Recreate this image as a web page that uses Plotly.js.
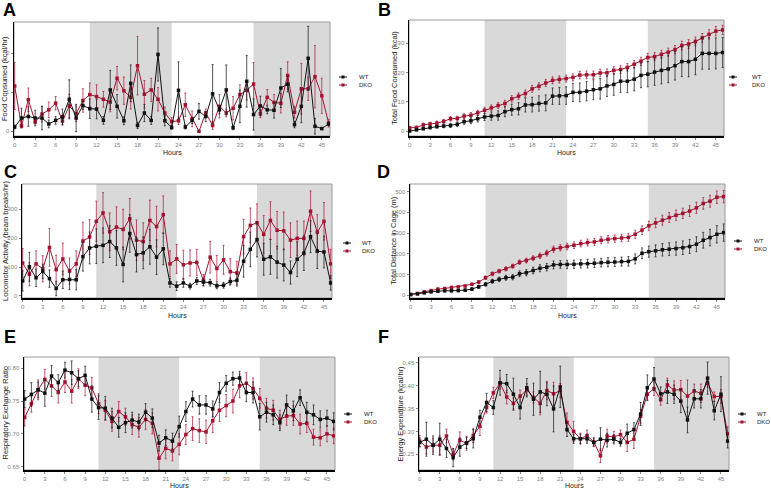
<!DOCTYPE html>
<html><head><meta charset="utf-8">
<script src="https://cdn.plot.ly/plotly-3.0.1.min.js"></script>
<style>html,body{margin:0;padding:0;background:#fff}#chart{width:771px;height:489px}</style>
</head><body><div id="chart"></div>
<script>
const hours = [0,1,2,3,4,5,6,7,8,9,10,11,12,13,14,15,16,17,18,19,20,21,22,23,24,25,26,27,28,29,30,31,32,33,34,35,36,37,38,39,40,41,42,43,44,45,46];
const groups = ['WT','DKO'];
const panelLetters = ['A','B','C','D','E','F'];
const yTitles = ['Food Consumed (kcal/hr)','Total Food Consumed (kcal)','Locomotor Activity (beam breaks/hr)','Total Distance in Cage (m)','Respiratory Exchange Ratio','Energy Expenditure (kcal/hr)'];
const xTitle = 'Hours';
const darkPeriods = [[11,23],[35,46.2]];

// A: hourly food consumed
const foodWT = [0.11,0.34,0.38,0.34,0.34,0.19,0.28,0.37,0.82,0.34,0.66,0.58,0.57,0.28,1.06,0.64,0.27,1.23,0.15,0.47,0.28,1.97,0.27,0.10,1.05,0.11,0.28,0.51,0.38,0.96,0.55,1.06,0.09,0.64,1.28,0.43,0.65,0.55,0.54,1.11,1.21,0.17,0.64,1.87,0.13,0.07,0.19];
const foodWTErr = [0.05,0.25,0.25,0.2,0.3,0.1,0.1,0.2,0.5,0.35,0.1,0.25,0.25,0.1,0.5,0.3,0.1,0.47,0.08,0.22,0.1,0.68,0.13,0.05,0.73,0.05,0.08,0.2,0.13,0.75,0.1,0.64,0.05,0.42,0.66,0.4,0.25,0.1,0.2,0.5,0.2,0.08,0.42,0.82,0.2,0.03,0.05];
const foodDKO = [1.16,0.14,0.81,0.24,0.44,0.55,0.72,0.26,0.65,0.45,0.79,0.94,0.89,0.82,0.75,1.36,1.04,0.87,1.68,0.95,1.06,0.82,0.47,0.25,0.27,0.68,0.32,0.0,0.47,0.15,0.64,0.47,0.59,0.94,1.05,1.21,0.45,0.87,0.74,0.72,1.43,0.49,1.09,1.09,1.40,0.91,0.21];
const foodDKOErr = [0.6,0.05,0.3,0.05,0.2,0.2,0.17,0.1,0.3,0.2,0.3,0.3,0.3,0.2,0.25,0.3,0.35,0.3,0.75,0.35,0.3,0.3,0.15,0.1,0.1,0.3,0.2,0.02,0.1,0.1,0.3,0.1,0.3,0.25,0.25,0.55,0.1,0.2,0.2,0.25,0.35,0.15,0.65,0.3,0.8,0.45,0.1];

// B: cumulative food
const cumFoodWT = [0,0.4,0.8,1.2,1.5,1.7,1.9,2.3,3.2,3.5,4.2,4.8,5.1,5.3,6.6,7.3,7.6,8.9,9.0,9.4,9.6,11.9,12.0,12.1,13.2,13.2,13.6,14.1,14.4,15.4,15.9,17.0,17.0,17.7,19.0,19.4,20.1,20.7,21.2,22.3,23.7,23.7,24.5,26.5,26.5,26.5,26.8];
const cumFoodWTErr = [0.2,0.3,0.4,0.5,0.5,0.6,0.7,0.8,0.9,1.0,1.1,1.2,1.4,1.6,1.7,1.9,2.1,2.4,2.5,2.6,2.7,2.8,2.9,3.0,3.1,3.2,3.3,3.4,3.5,3.6,3.7,3.8,3.9,4.0,4.2,4.3,4.5,4.6,4.7,4.9,5.1,5.2,5.3,5.4,5.4,5.3,5.1];
const cumFoodDKO = [1.1,1.2,2.1,2.4,2.7,3.3,4.2,4.3,5.1,5.4,6.2,7.1,7.9,8.7,9.4,11.0,11.9,12.8,14.4,15.3,16.4,17.3,17.6,17.9,18.3,19.1,19.2,19.2,19.8,19.9,20.7,21.0,21.7,22.8,23.8,25.1,25.4,26.2,26.9,27.8,29.2,29.7,30.6,31.8,33.0,34.1,34.5];
const cumFoodDKOErr = [0.4,0.5,0.6,0.6,0.7,0.7,0.8,0.8,0.8,0.9,0.9,1.0,1.0,1.0,1.1,1.1,1.1,1.2,1.2,1.2,1.2,1.2,1.2,1.2,1.2,1.3,1.3,1.3,1.3,1.3,1.3,1.3,1.3,1.3,1.4,1.4,1.4,1.4,1.4,1.4,1.5,1.5,1.5,1.5,1.6,1.6,1.6];

// C: locomotor activity
const locoWT = [52,101,63,85,60,26,56,57,56,136,166,172,175,188,166,109,216,143,149,170,134,163,45,34,45,34,52,48,46,35,37,50,54,120,161,195,127,135,117,107,81,127,148,205,155,152,45];
const locoWTErr = [35,50,30,25,30,25,30,35,35,50,55,60,60,55,60,60,65,60,55,60,60,55,15,15,15,10,12,12,12,10,10,12,20,55,60,60,55,60,55,55,40,60,60,55,60,55,25];
const locoDKO = [114,75,111,94,168,91,128,86,111,190,204,258,287,222,238,230,267,193,188,261,240,281,111,128,108,114,116,54,134,95,125,84,80,205,244,253,213,261,227,225,193,199,199,293,221,258,111];
const locoDKOErr = [50,40,45,45,65,50,55,45,45,65,60,70,70,65,70,70,70,70,65,70,70,65,45,50,50,45,45,20,55,45,50,45,40,60,60,65,65,65,65,65,60,60,60,70,60,65,50];

// D: total distance
const distWT = [3,6,11,16,19,21,21,22,24,29,40,52,67,76,84,87,103,108,119,130,135,146,148,148,149,151,152,154,157,159,160,162,163,175,202,210,214,219,222,225,229,235,246,265,278,294,302];
const distWTErr = [3,4,4,5,5,5,6,6,6,7,8,9,10,11,12,13,14,15,16,17,18,19,19,20,20,20,21,21,21,22,22,22,23,24,26,27,29,30,31,32,33,34,36,38,40,42,42];
const distDKO = [3,8,16,22,29,32,37,40,44,52,63,84,103,116,127,140,159,167,178,190,203,222,229,235,241,249,254,257,265,270,273,276,279,294,314,335,349,362,375,386,395,406,422,443,454,473,476];
const distDKOErr = [2,3,3,4,4,4,5,5,5,6,7,8,9,9,10,10,11,12,12,13,14,15,15,16,16,16,17,17,17,18,18,18,19,20,21,22,23,24,24,25,25,26,27,28,29,30,30];

// E: RER
const rerWT = [0.753,0.760,0.767,0.762,0.788,0.778,0.797,0.793,0.784,0.789,0.753,0.740,0.739,0.724,0.710,0.717,0.721,0.718,0.733,0.724,0.686,0.694,0.689,0.711,0.734,0.753,0.744,0.744,0.738,0.763,0.777,0.784,0.785,0.763,0.763,0.726,0.733,0.729,0.717,0.744,0.735,0.755,0.733,0.729,0.722,0.724,0.719];
const rerWTErr = [0.013,0.018,0.012,0.02,0.016,0.012,0.012,0.018,0.012,0.014,0.02,0.018,0.018,0.015,0.015,0.015,0.012,0.012,0.013,0.014,0.012,0.012,0.012,0.016,0.015,0.012,0.014,0.014,0.012,0.015,0.012,0.01,0.01,0.014,0.016,0.02,0.015,0.015,0.012,0.015,0.015,0.012,0.015,0.015,0.013,0.012,0.013];
const rerDKO = [0.725,0.746,0.767,0.783,0.773,0.763,0.779,0.765,0.784,0.774,0.770,0.746,0.736,0.719,0.734,0.726,0.714,0.710,0.722,0.716,0.663,0.678,0.674,0.684,0.699,0.708,0.705,0.703,0.720,0.736,0.743,0.750,0.773,0.777,0.769,0.754,0.739,0.736,0.722,0.727,0.728,0.715,0.716,0.695,0.694,0.700,0.697];
const rerDKOErr = [0.013,0.013,0.015,0.015,0.016,0.016,0.016,0.018,0.015,0.016,0.016,0.015,0.015,0.015,0.015,0.013,0.015,0.015,0.015,0.016,0.018,0.016,0.015,0.016,0.015,0.018,0.018,0.018,0.018,0.017,0.017,0.018,0.018,0.016,0.016,0.015,0.015,0.015,0.014,0.014,0.015,0.015,0.014,0.012,0.012,0.012,0.012];

// F: energy expenditure
const eeWT = [0.276,0.283,0.270,0.283,0.263,0.243,0.266,0.275,0.284,0.331,0.363,0.352,0.406,0.404,0.381,0.352,0.395,0.370,0.386,0.381,0.349,0.397,0.304,0.284,0.284,0.284,0.276,0.283,0.281,0.283,0.276,0.296,0.304,0.338,0.395,0.414,0.382,0.386,0.381,0.366,0.325,0.371,0.371,0.416,0.345,0.381,0.279];
const eeWTErr = [0.01,0.037,0.02,0.035,0.02,0.02,0.02,0.012,0.02,0.015,0.02,0.015,0.027,0.02,0.035,0.025,0.02,0.035,0.045,0.025,0.05,0.045,0.015,0.01,0.01,0.01,0.008,0.025,0.015,0.01,0.008,0.02,0.015,0.025,0.028,0.025,0.015,0.025,0.02,0.025,0.028,0.02,0.02,0.035,0.02,0.038,0.015];
const eeDKO = [0.279,0.266,0.270,0.270,0.290,0.250,0.281,0.274,0.291,0.311,0.352,0.384,0.404,0.375,0.361,0.377,0.391,0.374,0.361,0.389,0.382,0.389,0.320,0.300,0.284,0.291,0.277,0.247,0.290,0.288,0.293,0.276,0.283,0.333,0.381,0.393,0.369,0.401,0.390,0.391,0.377,0.388,0.383,0.406,0.376,0.376,0.295];
const eeDKOErr = [0.012,0.015,0.015,0.02,0.015,0.012,0.018,0.015,0.015,0.02,0.012,0.012,0.012,0.015,0.012,0.013,0.013,0.012,0.025,0.02,0.025,0.015,0.02,0.022,0.012,0.012,0.01,0.015,0.015,0.012,0.01,0.02,0.02,0.015,0.012,0.015,0.012,0.015,0.02,0.02,0.035,0.015,0.02,0.01,0.01,0.015,0.015];

const yTickVals = [[0,1,2],[0,10,20,30],[0,100,200,300],[0,100,200,300,400,500],[0.65,0.70,0.75,0.80],[0.25,0.30,0.35,0.40,0.45]];
const yTickText = [['0','1','2'],['0','10','20','30'],['0','100','200','300'],['0','100','200','300','400','500'],['0.65','0.70','0.75','0.80'],['0.25','0.30','0.35','0.40','0.45']];

const W = 771, H = 489;
const PX = x => x / W, PY = y => 1 - y / H;
// layout (pixel boxes)
const boxes = [
  {l:14,r:330,t:22,b:136, yr:[-0.12,2.8], ytx:4, hy:152, lx:343, tx:357, ly:77, letter:[9,10]},
  {l:409,r:724,t:20,b:136, yr:[-1.7,37.9], ytx:395, hy:152, lx:733, tx:750, ly:77, letter:[384,10]},
  {l:22,r:332,t:184,b:298, yr:[-7,387], ytx:5, hy:315, lx:347, tx:360, ly:243, letter:[10,172]},
  {l:410,r:725,t:184,b:298, yr:[-14,537], ytx:393, hy:315, lx:738, tx:752, ly:241, letter:[383,172]},
  {l:24,r:335,t:357,b:470, yr:[0.645,0.817], ytx:5, hy:485, lx:348, tx:362, ly:414, letter:[10,337]},
  {l:419,r:729,t:357,b:470, yr:[0.216,0.462], ytx:400, hy:485, lx:742, tx:755, ly:414, letter:[383,337]}
];
const seriesSets = [
  [foodWT,foodWTErr,foodDKO,foodDKOErr],
  [cumFoodWT,cumFoodWTErr,cumFoodDKO,cumFoodDKOErr],
  [locoWT,locoWTErr,locoDKO,locoDKOErr],
  [distWT,distWTErr,distDKO,distDKOErr],
  [rerWT,rerWTErr,rerDKO,rerDKOErr],
  [eeWT,eeWTErr,eeDKO,eeDKOErr]
];
const colWT = '#111111', colDKO = '#a3132f';
const errWT = 'rgba(30,30,30,0.75)', errDKO = 'rgba(170,20,50,0.7)';
const FONT = 'Liberation Sans, Arial, sans-serif';

const traces = [], shapes = [], annotations = [];
const layout = {width:W, height:H, margin:{l:0,r:0,t:0,b:0}, paper_bgcolor:'#fff', plot_bgcolor:'#fff', showlegend:false, font:{family:FONT, color:'#222'}};

boxes.forEach((bx, i) => {
  const n = i === 0 ? '' : String(i + 1);
  const xa = 'x' + n, ya = 'y' + n;
  layout['xaxis' + n] = {domain:[PX(bx.l), PX(bx.r)], range:[-0.1, 46.2], anchor:ya, tick0:0, dtick:3,
    showgrid:false, zeroline:false, showline:true, linecolor:'#000', linewidth:1.5, ticks:'outside', ticklen:2, tickcolor:'#888',
    tickfont:{size:6, color:'#7f7f7f', family:FONT}, fixedrange:true};
  layout['yaxis' + n] = {domain:[PY(bx.b), PY(bx.t)], range:bx.yr, anchor:xa, tickvals:yTickVals[i], ticktext:yTickText[i],
    showgrid:false, zeroline:false, showline:true, linecolor:'#000', linewidth:1.5, ticks:'outside', ticklen:2, tickcolor:'#888',
    tickfont:{size:6, color:'#7f7f7f', family:FONT}, fixedrange:true};
  darkPeriods.forEach(p => shapes.push({type:'rect', xref:xa, yref:ya + ' domain', x0:p[0], x1:p[1], y0:0, y1:1, fillcolor:'#d9d9d9', line:{width:0}, layer:'below'}));
  shapes.push({type:'rect', xref:xa + ' domain', yref:ya + ' domain', x0:0, x1:1, y0:0, y1:1, line:{color:'#9a9a9a', width:1}, fillcolor:'rgba(0,0,0,0)', layer:'below'});
  const s = seriesSets[i];
  traces.push({x:hours, y:s[2], xaxis:xa, yaxis:ya, name:groups[1], type:'scatter', mode:'lines+markers',
    line:{color:colDKO, width:1}, marker:{color:colDKO, size:3.5, symbol:'square'},
    error_y:{type:'data', array:s[3], visible:true, color:errDKO, thickness:1, width:1}});
  traces.push({x:hours, y:s[0], xaxis:xa, yaxis:ya, name:groups[0], type:'scatter', mode:'lines+markers',
    line:{color:colWT, width:1}, marker:{color:colWT, size:3.5, symbol:'square'},
    error_y:{type:'data', array:s[1], visible:true, color:errWT, thickness:1, width:1}});
  annotations.push({xref:'paper', yref:'paper', x:PX(bx.ytx), y:PY((bx.t + bx.b) / 2), text:yTitles[i], textangle:-90, showarrow:false,
    font:{size:7.5, color:'#222', family:FONT}, xanchor:'center', yanchor:'middle'});
  annotations.push({xref:'paper', yref:'paper', x:PX((bx.l + bx.r) / 2), y:PY(bx.hy), text:xTitle, showarrow:false,
    font:{size:7, color:'#222', family:FONT}, xanchor:'center', yanchor:'middle'});
  annotations.push({xref:'paper', yref:'paper', x:PX(bx.letter[0]), y:PY(bx.letter[1]), text:'<b>' + panelLetters[i] + '</b>', showarrow:false,
    font:{size:18, color:'#000', family:FONT}, xanchor:'center', yanchor:'middle'});
  [[groups[0], colWT, bx.ly], [groups[1], colDKO, bx.ly + 8]].forEach(g => {
    shapes.push({type:'line', xref:'paper', yref:'paper', x0:PX(bx.lx - 4), x1:PX(bx.lx + 4), y0:PY(g[2]), y1:PY(g[2]), line:{color:g[1], width:1}});
    shapes.push({type:'rect', xref:'paper', yref:'paper', x0:PX(bx.lx - 1.5), x1:PX(bx.lx + 1.5), y0:PY(g[2] + 1.5), y1:PY(g[2] - 1.5), fillcolor:g[1], line:{width:0}});
    annotations.push({xref:'paper', yref:'paper', x:PX(bx.tx), y:PY(g[2]), text:g[0], showarrow:false, xanchor:'left', yanchor:'middle',
      font:{size:6, color:'#222', family:FONT}});
  });
});
layout.shapes = shapes;
layout.annotations = annotations;
Plotly.newPlot('chart', traces, layout, {staticPlot:true, displayModeBar:false});
</script>
</body></html>
